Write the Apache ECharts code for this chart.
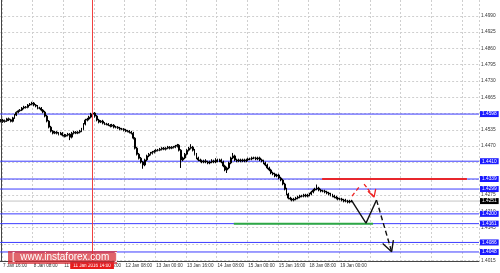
<!DOCTYPE html>
<html><head><meta charset="utf-8">
<script src="https://cdn.jsdelivr.net/npm/echarts@6/dist/echarts.min.js"></script>
<style>html,body{margin:0;padding:0;background:#fff}#c{width:500px;height:273px}</style>
</head><body><div id="c"></div>
<script>
// ---- data (GBP/USD H1) ----
const opens = [1.4570,1.4574,1.4568,1.4571,1.4579,1.4575,1.4569,1.4583,1.4594,1.4605,
1.4611,1.4614,1.4622,1.4626,1.4625,1.4634,1.4638,1.4642,1.4634,1.4630,
1.4622,1.4622,1.4614,1.4606,1.4590,1.4570,1.4546,1.4530,1.4522,1.4526,
1.4522,1.4518,1.4522,1.4514,1.4510,1.4514,1.4518,1.4506,1.4522,1.4526,
1.4522,1.4526,1.4530,1.4538,1.4558,1.4574,1.4578,1.4586,1.4598,1.4602,
1.4590,1.4574,1.4566,1.4570,1.4562,1.4558,1.4558,1.4554,1.4550,1.4554,
1.4546,1.4546,1.4542,1.4538,1.4538,1.4534,1.4530,1.4530,1.4526,1.4522,
1.4502,1.4462,1.4438,1.4422,1.4407,1.4395,1.4415,1.4431,1.4438,1.4442,
1.4446,1.4450,1.4454,1.4454,1.4458,1.4462,1.4458,1.4462,1.4466,1.4462,
1.4466,1.4466,1.4470,1.4474,1.4454,1.4415,1.4423,1.4438,1.4454,1.4462,
1.4466,1.4454,1.4438,1.4423,1.4415,1.4411,1.4407,1.4411,1.4407,1.4403,
1.4407,1.4411,1.4407,1.4415,1.4411,1.4415,1.4407,1.4391,1.4375,1.4383,
1.4403,1.4423,1.4431,1.4415,1.4411,1.4415,1.4411,1.4415,1.4411,1.4415,
1.4419,1.4419,1.4423,1.4423,1.4419,1.4423,1.4415,1.4411,1.4403,1.4395,
1.4383,1.4375,1.4363,1.4359,1.4351,1.4355,1.4343,1.4335,1.4319,1.4299,
1.4279,1.4263,1.4259,1.4255,1.4259,1.4263,1.4267,1.4271,1.4271,1.4275,
1.4271,1.4275,1.4279,1.4287,1.4295,1.4299,1.4303,1.4295,1.4291,1.4291,
1.4287,1.4283,1.4279,1.4275,1.4271,1.4267,1.4263,1.4259,1.4259,1.4255,
1.4251,1.4251,1.4247,1.4251];
const closes = [1.4574,1.4568,1.4571,1.4579,1.4575,1.4569,1.4583,1.4594,1.4605,1.4611,
1.4614,1.4622,1.4626,1.4625,1.4634,1.4638,1.4642,1.4634,1.4630,1.4622,
1.4622,1.4614,1.4606,1.4590,1.4570,1.4546,1.4530,1.4522,1.4526,1.4522,
1.4518,1.4522,1.4514,1.4510,1.4514,1.4518,1.4506,1.4522,1.4526,1.4522,
1.4526,1.4530,1.4538,1.4558,1.4574,1.4578,1.4586,1.4598,1.4602,1.4590,
1.4574,1.4566,1.4570,1.4562,1.4558,1.4558,1.4554,1.4550,1.4554,1.4546,
1.4546,1.4542,1.4538,1.4538,1.4534,1.4530,1.4530,1.4526,1.4522,1.4502,
1.4462,1.4438,1.4422,1.4407,1.4395,1.4415,1.4431,1.4438,1.4442,1.4446,
1.4450,1.4454,1.4454,1.4458,1.4462,1.4458,1.4462,1.4466,1.4462,1.4466,
1.4466,1.4470,1.4474,1.4454,1.4415,1.4423,1.4438,1.4454,1.4462,1.4466,
1.4454,1.4438,1.4423,1.4415,1.4411,1.4407,1.4411,1.4407,1.4403,1.4407,
1.4411,1.4407,1.4415,1.4411,1.4415,1.4407,1.4391,1.4375,1.4383,1.4403,
1.4423,1.4431,1.4415,1.4411,1.4415,1.4411,1.4415,1.4411,1.4415,1.4419,
1.4419,1.4423,1.4423,1.4419,1.4423,1.4415,1.4411,1.4403,1.4395,1.4383,
1.4375,1.4363,1.4359,1.4351,1.4355,1.4343,1.4335,1.4319,1.4299,1.4279,
1.4263,1.4259,1.4255,1.4259,1.4263,1.4267,1.4271,1.4271,1.4275,1.4271,
1.4275,1.4279,1.4287,1.4295,1.4299,1.4303,1.4295,1.4291,1.4291,1.4287,
1.4283,1.4279,1.4275,1.4271,1.4267,1.4263,1.4259,1.4259,1.4255,1.4251,
1.4251,1.4247,1.4251,1.4251];
const lows = [1.4565,1.4563,1.4564,1.4567,1.4570,1.4565,1.4565,1.4579,1.4590,1.4601,
1.4607,1.4610,1.4617,1.4620,1.4621,1.4630,1.4633,1.4629,1.4625,1.4617,
1.4617,1.4609,1.4601,1.4585,1.4565,1.4541,1.4525,1.4517,1.4518,1.4517,
1.4513,1.4514,1.4509,1.4505,1.4506,1.4509,1.4494,1.4501,1.4517,1.4518,
1.4518,1.4521,1.4526,1.4533,1.4553,1.4569,1.4573,1.4581,1.4592,1.4584,
1.4569,1.4561,1.4562,1.4557,1.4554,1.4553,1.4550,1.4545,1.4546,1.4541,
1.4541,1.4538,1.4533,1.4534,1.4529,1.4526,1.4525,1.4521,1.4517,1.4497,
1.4457,1.4433,1.4417,1.4401,1.4380,1.4390,1.4410,1.4426,1.4433,1.4437,
1.4441,1.4446,1.4449,1.4450,1.4453,1.4454,1.4453,1.4458,1.4457,1.4458,
1.4461,1.4462,1.4465,1.4449,1.4383,1.4410,1.4418,1.4433,1.4449,1.4457,
1.4449,1.4433,1.4418,1.4410,1.4406,1.4402,1.4402,1.4402,1.4398,1.4398,
1.4402,1.4402,1.4402,1.4406,1.4406,1.4402,1.4386,1.4370,1.4363,1.4378,
1.4398,1.4418,1.4410,1.4406,1.4406,1.4406,1.4406,1.4406,1.4406,1.4410,
1.4414,1.4414,1.4418,1.4414,1.4414,1.4410,1.4406,1.4398,1.4390,1.4378,
1.4370,1.4358,1.4354,1.4346,1.4346,1.4338,1.4330,1.4314,1.4294,1.4274,
1.4258,1.4254,1.4250,1.4250,1.4254,1.4258,1.4262,1.4266,1.4266,1.4266,
1.4266,1.4270,1.4274,1.4282,1.4290,1.4294,1.4290,1.4286,1.4286,1.4282,
1.4278,1.4274,1.4270,1.4266,1.4262,1.4258,1.4254,1.4254,1.4250,1.4246,
1.4246,1.4242,1.4242,1.4246];
const highs = [1.4578,1.4579,1.4576,1.4583,1.4584,1.4579,1.4587,1.4598,1.4609,1.4615,
1.4618,1.4626,1.4631,1.4630,1.4638,1.4642,1.4647,1.4646,1.4638,1.4634,
1.4627,1.4626,1.4618,1.4611,1.4595,1.4574,1.4551,1.4534,1.4531,1.4530,
1.4526,1.4527,1.4526,1.4519,1.4518,1.4523,1.4522,1.4527,1.4531,1.4530,
1.4530,1.4535,1.4543,1.4562,1.4579,1.4583,1.4591,1.4603,1.4610,1.4606,
1.4594,1.4579,1.4574,1.4575,1.4566,1.4563,1.4562,1.4558,1.4559,1.4558,
1.4551,1.4550,1.4547,1.4543,1.4542,1.4539,1.4535,1.4534,1.4531,1.4527,
1.4506,1.4467,1.4443,1.4427,1.4411,1.4420,1.4436,1.4443,1.4447,1.4451,
1.4455,1.4458,1.4459,1.4463,1.4466,1.4467,1.4466,1.4471,1.4470,1.4470,
1.4471,1.4475,1.4479,1.4478,1.4458,1.4428,1.4443,1.4458,1.4467,1.4478,
1.4471,1.4459,1.4443,1.4428,1.4420,1.4416,1.4416,1.4418,1.4412,1.4412,
1.4418,1.4416,1.4422,1.4420,1.4420,1.4420,1.4412,1.4396,1.4388,1.4408,
1.4428,1.4443,1.4436,1.4420,1.4420,1.4420,1.4420,1.4420,1.4420,1.4424,
1.4424,1.4428,1.4428,1.4428,1.4428,1.4428,1.4420,1.4416,1.4408,1.4400,
1.4388,1.4380,1.4368,1.4364,1.4360,1.4360,1.4348,1.4340,1.4324,1.4304,
1.4284,1.4268,1.4264,1.4264,1.4268,1.4272,1.4276,1.4276,1.4280,1.4280,
1.4280,1.4284,1.4292,1.4300,1.4304,1.4317,1.4308,1.4300,1.4296,1.4296,
1.4292,1.4288,1.4284,1.4280,1.4276,1.4272,1.4268,1.4264,1.4264,1.4260,
1.4260,1.4256,1.4256,1.4256];

const timeLabels = ['7 Jan 16:00','8 Jan 08:00','11 Jan 00:00','11 Jan 16:00','12 Jan 08:00','13 Jan 00:00','13 Jan 16:00','14 Jan 08:00','15 Jan 00:00','15 Jan 16:00','18 Jan 08:00','19 Jan 00:00'];
const gridTimes = ['7 Jan 16:00','8 Jan 08:00','11 Jan 00:00','11 Jan 16:00','12 Jan 08:00','13 Jan 00:00','13 Jan 16:00','14 Jan 08:00','15 Jan 00:00','15 Jan 16:00','18 Jan 08:00','19 Jan 00:00','19 Jan 16:00','20 Jan 08:00','21 Jan 00:00','21 Jan 16:00'];
const priceTicks = [1.4990,1.4925,1.4860,1.4795,1.4730,1.4665,1.4600,1.4535,1.4470,1.4405,1.4340,1.4275,1.4210,1.4145,1.4080,1.4015];
const levels = [1.4598,1.4410,1.4339,1.4299,1.4200,1.4161,1.4086,1.4048];
const bidPrice = 1.4251;
const redLevel = {price:1.4339, from:167.6, to:243.2};
const greenLevel = {price:1.4161, from:121.5, to:194.2};
const vLine = {bar:47.5, label:'11 Jan 2016 14:00'};
// forecast paths: [bar position, price]
const blackSolid = [[183.2,1.4251],[190.5,1.4163],[196.0,1.4255]];
const blackDashed = [[196.0,1.4255],[203.9,1.4049]];
const blackHead = [[199.2,1.4082],[203.9,1.4049],[204.8,1.4095]];
const redUp = [[183.2,1.4271],[186.9,1.4307]];
const redDown = [[189.5,1.4319],[194.7,1.4267]];
const redHead = [[191.5,1.4290],[194.7,1.4267],[195.6,1.4300]];
const yMin = 1.4012, yMax = 1.5053, nBars = 250;

// ---- build ----
function buildCategories(n){
  const out=[]; let t=Date.UTC(2016,0,7,15);
  while(out.length<n){ const d=new Date(t); const wd=d.getUTCDay();
    if(wd!==0&&wd!==6) out.push(d.getUTCDate()+' Jan '+String(d.getUTCHours()).padStart(2,'0')+':00');
    t+=3600000; }
  return out;
}
const cats = buildCategories(nBars);
const candles = opens.map((o,i)=>[o,closes[i],lows[i],highs[i]]);
const FONT = 'Liberation Sans';
const BLUE = '#3c3cff';
const XL = -0.5, XR = nBars - 0.5;
const chart = echarts.init(document.getElementById('c'),null,{renderer:'canvas'});
const lineS = (data,color,type,w)=>({type:'line',xAxisIndex:1,data,symbol:'none',silent:true,animation:false,
  lineStyle:{color,width:w||1.3,type:type||'solid'},itemStyle:{color},z:6});
const levelS = (v,color,bg,z)=>({type:'line',xAxisIndex:1,data:[[XL,v],[XR,v]],symbol:'none',silent:true,z:z,
  clip:false,itemStyle:{color},lineStyle:{color,width:1,type:'solid'},
  endLabel:{show:true,distance:1,formatter:v.toFixed(4),color:'#fff',backgroundColor:bg,
      fontSize:4.8,fontFamily:FONT,padding:[1,2,0,2]}});
const segS = (seg,color)=>({type:'line',xAxisIndex:1,data:[[seg.from,seg.price],[seg.to,seg.price]],symbol:'none',silent:true,z:5,
  lineStyle:{color,width:2},itemStyle:{color}});
chart.setOption({
  animation:false,
  backgroundColor:'#ffffff',
  grid:{left:0,right:21,top:0,bottom:12},
  xAxis:[{type:'category',data:cats,boundaryGap:true,
    axisLine:{show:true,lineStyle:{color:'#444',width:1}},
    axisTick:{show:false},
    axisLabel:{fontSize:4.6,fontFamily:FONT,color:'#333',align:'left',margin:2,
      interval:(i,v)=>timeLabels.includes(v)},
    splitLine:{show:true,interval:(i,v)=>gridTimes.includes(v),lineStyle:{color:'#cfcfcf',type:[2,2],width:1}}},
   {type:'value',min:XL,max:XR,show:false}],
  yAxis:{type:'value',position:'right',min:yMin,max:yMax,
    axisLine:{show:true,lineStyle:{color:'#444',width:1}},
    axisTick:{show:false,customValues:priceTicks},
    axisLabel:{customValues:priceTicks,fontSize:4.8,fontFamily:FONT,color:'#333',margin:2,formatter:v=>v.toFixed(4)},
    splitLine:{show:true,lineStyle:{color:'#cfcfcf',type:[2,2],width:1}}},
  series:[
    levelS(bidPrice,'#c4c4c4','#000000',2),
    ...levels.map(v=>levelS(v,BLUE,'#1a1aff',3)),
    segS(redLevel,'#e8262c'),
    segS(greenLevel,'#2ea844'),
    {type:'line',xAxisIndex:1,data:[],symbol:'none',silent:true,z:3,itemStyle:{color:'#f04040'},
     markLine:{symbol:'none',silent:true,animation:false,lineStyle:{color:'#f04040',width:1,type:'solid'},
      label:{show:true,position:'start',distance:1,formatter:vLine.label,color:'#fff',backgroundColor:'#e81c1c',fontSize:4.6,fontFamily:FONT,padding:[1,3,1,3]},
      data:[{xAxis:vLine.bar}]}},
    {type:'candlestick',data:candles,barWidth:1.4,z:4,silent:true,
     itemStyle:{color:'#ffffff',color0:'#000000',borderColor:'#000000',borderColor0:'#000000',borderWidth:1}},
    lineS(blackSolid,'#111','solid',1.4),
    lineS(blackDashed,'#111',[5,3],1.4),
    lineS(blackHead,'#111','solid',1.4),
    lineS(redUp,'#ee2222',[4,3],1.3),
    lineS(redDown,'#ee2222',[4,2],1.3),
    lineS(redHead,'#ee2222','solid',1.3)
  ],
  graphic:[
    {type:'rect',left:8,top:251,shape:{width:109,height:13},style:{fill:'rgba(214,40,48,0.72)'},z:50},
    {type:'text',left:12,top:252.5,style:{text:'[  www.instaforex.com  ]',fill:'#fff',font:'10px "Liberation Sans"'},z:51}
  ]
});
</script></body></html>
